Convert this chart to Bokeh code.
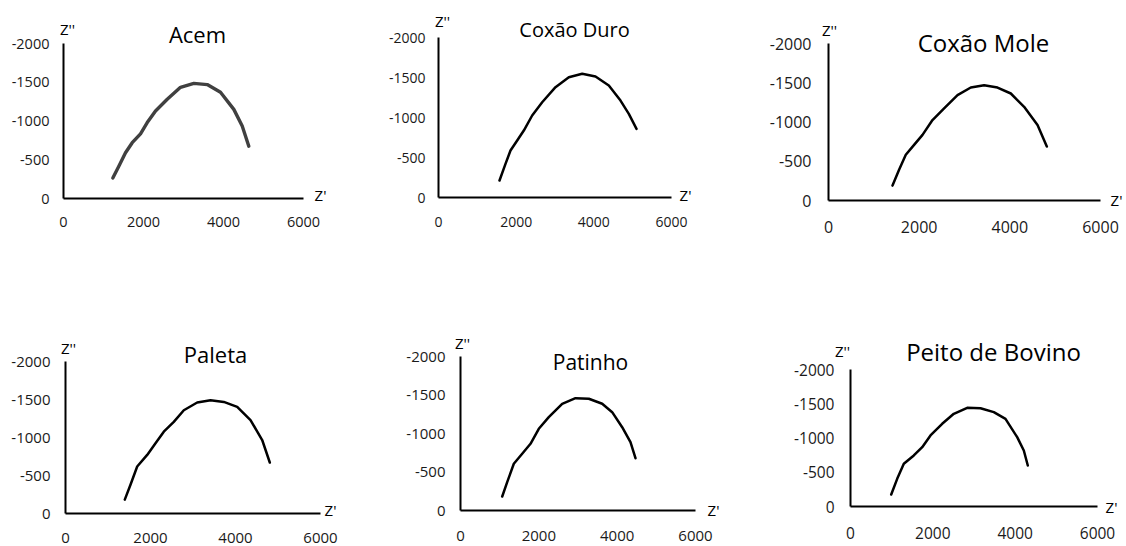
from bokeh.plotting import figure
from bokeh.models import Range1d, FixedTicker, Label
from bokeh.layouts import column, row
from bokeh.embed import file_html
from bokeh.resources import INLINE

# ---------------- data (Z' in x, Z'' in y) ----------------
titles = ["Acem", "Coxão Duro", "Coxão Mole", "Paleta", "Patinho", "Peito de Bovino"]

x_ticks = [0, 2000, 4000, 6000]
x_tick_labels = ["0", "2000", "4000", "6000"]
y_ticks = [0, -500, -1000, -1500, -2000]
y_tick_labels = ["0", "-500", "-1000", "-1500", "-2000"]

acem_x = [1233, 1383, 1550, 1718, 1925, 2093, 2300, 2593, 2925, 3258, 3593, 3925, 4258, 4468, 4633]
acem_y = [-265, -415, -590, -720, -835, -980, -1130, -1280, -1435, -1485, -1470, -1370, -1150, -935, -675]

cduro_x = [1571, 1725, 1854, 2026, 2197, 2412, 2670, 3013, 3356, 3700, 4043, 4386, 4687, 4901, 5099]
cduro_y = [-212, -421, -587, -712, -837, -1025, -1191, -1379, -1504, -1546, -1512, -1400, -1212, -1046, -858]

cmole_x = [1412, 1557, 1705, 1888, 2074, 2294, 2550, 2846, 3139, 3433, 3728, 4022, 4315, 4611, 4816]
cmole_y = [-190, -392, -582, -709, -836, -1025, -1173, -1342, -1439, -1469, -1439, -1363, -1194, -962, -688]

paleta_x = [1395, 1529, 1687, 1922, 2118, 2313, 2548, 2784, 3099, 3412, 3725, 4040, 4353, 4628, 4807]
paleta_y = [-183, -379, -618, -771, -924, -1076, -1206, -1359, -1460, -1490, -1468, -1402, -1229, -967, -671]

patinho_x = [1065, 1192, 1361, 1575, 1787, 1999, 2254, 2596, 2936, 3276, 3618, 3873, 4128, 4340, 4468]
patinho_y = [-182, -368, -607, -737, -866, -1061, -1212, -1386, -1459, -1451, -1386, -1277, -1082, -887, -679]

peito_x = [989, 1134, 1295, 1538, 1742, 1943, 2227, 2509, 2835, 3158, 3481, 3765, 4049, 4210, 4307]
peito_y = [-175, -404, -623, -745, -866, -1037, -1207, -1353, -1441, -1435, -1377, -1280, -1012, -818, -599]

series_x = [acem_x, cduro_x, cmole_x, paleta_x, patinho_x, peito_x]
series_y = [acem_y, cduro_y, cmole_y, paleta_y, patinho_y, peito_y]

X_MAX = 6000
Y_MIN = -2000

# ---------------- layout / styling per panel ----------------
FONT = "Open Sans"
# canvas size and data box (left margin, data width, top margin, data height) in px
canvas = [(375, 290), (375, 290), (376, 290), (375, 255), (375, 255), (376, 255)]
box = [
    (63, 240, 43, 155),
    (63, 233, 37, 160),
    (78, 272, 43, 157),
    (65, 255, 71, 152),
    (85, 235, 66, 154),
    (100, 247, 79, 137),
]
# text positions relative to the data box top-left, in px
title_pos = [(134, -10), (136, -8), (155, -1), (150, -8), (130, 5), (143, -18)]
title_size = ["22px", "20px", "24px", "22px", "21px", "24px"]
zpp_pos = [(4, -15), (4, -17), (1, -14), (3, -14), (2, -14), (-8, -19)]
zp_pos = [(257, 151), (247, 157), (288, 156), (265, 148), (253, 153), (261, 137)]
tick_size = ["14.5px", "14px", "16px", "15px", "15px", "15.5px"]
x_standoff = [18, 19, 20, 19, 20, 20]
y_standoff = [14, 13, 17, 15, 15, 16]
line_color = ["#404040", "black", "black", "black", "black", "black"]
line_width = [3.4, 2.5, 2.5, 2.5, 2.5, 2.5]

panels = []
for i in range(6):
    cw, ch = canvas[i]
    bl, dw, bt, dh = box[i]
    sx = X_MAX / dw
    sy = -Y_MIN / dh
    x_start = -bl * sx
    x_end = (cw - bl) * sx
    y_start = (ch - bt - dh) * sy        # bottom of canvas (positive, below Z''=0)
    y_end = Y_MIN - bt * sy              # top of canvas
    p = figure(frame_width=cw, frame_height=ch,
               min_border=0, min_border_left=0, min_border_right=0,
               min_border_top=0, min_border_bottom=0,
               x_range=Range1d(x_start, x_end), y_range=Range1d(y_start, y_end),
               output_backend="svg", toolbar_location=None, tools="")
    p.outline_line_color = None
    p.background_fill_color = "white"
    p.border_fill_color = "white"
    p.xgrid.visible = False
    p.ygrid.visible = False

    p.xaxis.ticker = FixedTicker(ticks=x_ticks)
    p.xaxis.major_label_overrides = dict(zip(x_ticks, x_tick_labels))
    p.xaxis.fixed_location = 0
    p.xaxis.bounds = (0, X_MAX)
    p.yaxis.ticker = FixedTicker(ticks=y_ticks)
    p.yaxis.major_label_overrides = dict(zip(y_ticks, y_tick_labels))
    p.yaxis.fixed_location = 0
    p.yaxis.bounds = (Y_MIN, 0)
    for ax, so in ((p.xaxis, x_standoff[i]), (p.yaxis, y_standoff[i])):
        ax.major_tick_in = 0
        ax.major_tick_out = 0
        ax.minor_tick_in = 0
        ax.minor_tick_out = 0
        ax.axis_line_color = "black"
        ax.axis_line_width = 2
        ax.major_label_text_font = FONT
        ax.major_label_text_font_size = tick_size[i]
        ax.major_label_text_color = "#1a1a1a"
        ax.major_label_standoff = so

    p.line(series_x[i], series_y[i], line_color=line_color[i],
           line_width=line_width[i], line_cap="round", line_join="round")

    def place(rel, text, size):
        p.add_layout(Label(x=rel[0] * sx, y=Y_MIN + rel[1] * sy, text=text,
                           text_font=FONT, text_font_size=size, text_color="black",
                           text_align="center", text_baseline="middle"))

    place(title_pos[i], titles[i], title_size[i])
    place(zpp_pos[i], "Z''", "15px")
    place(zp_pos[i], "Z'", "15px")
    panels.append(p)

layout = column(row(panels[0], panels[1], panels[2]),
                row(panels[3], panels[4], panels[5]))

open("out.html", "w").write(file_html(layout, INLINE))
